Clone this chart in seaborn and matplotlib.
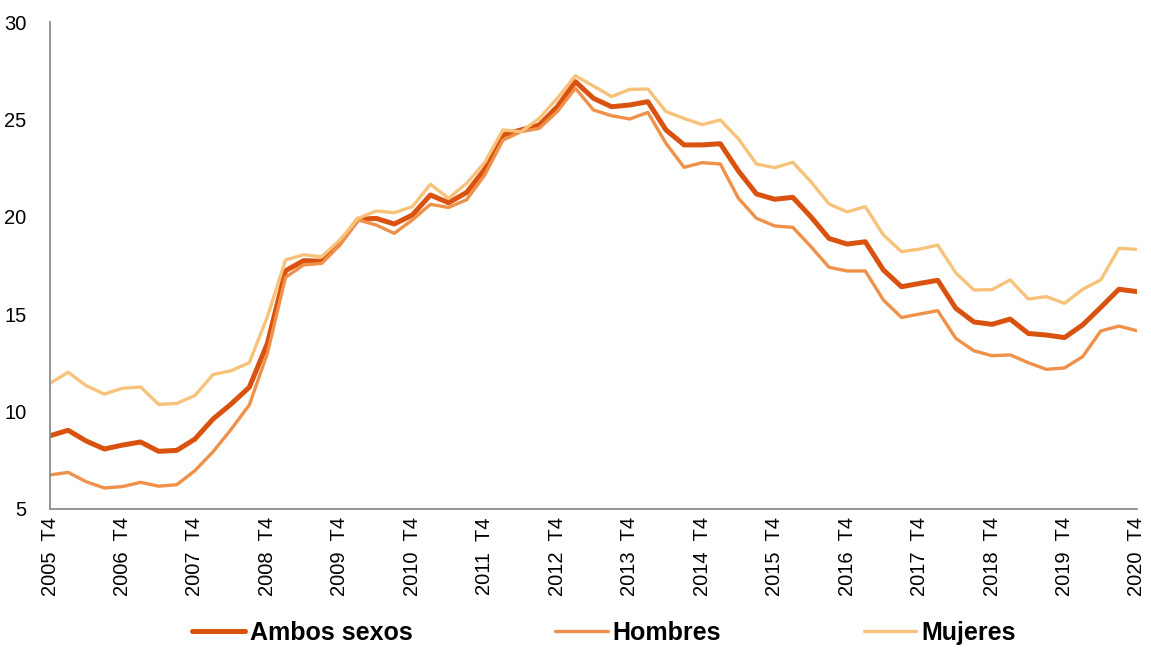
import numpy as np
import pandas as pd
import seaborn as sns
import matplotlib.pyplot as plt

# Tasa trimestral, 2005 T4 .. 2020 T4
years = list(range(2005, 2021))
quarters = [f"{y} T{q}" for y in range(2005, 2021) for q in (1, 2, 3, 4)][3:]

ambos = [8.76, 9.04, 8.49, 8.08, 8.28, 8.44, 7.96, 8.01, 8.59, 9.62,
         10.39, 11.25, 13.5, 17.23, 17.75, 17.72, 18.64, 19.87, 19.92, 19.63,
         20.09, 21.12, 20.72, 21.25, 22.45, 24.2, 24.46, 24.71, 25.65, 26.94,
         26.08, 25.65, 25.74, 25.91, 24.46, 23.69, 23.69, 23.75, 22.35, 21.17,
         20.9, 21.0, 20.0, 18.89, 18.6, 18.72, 17.27, 16.41, 16.58, 16.74,
         15.3, 14.6, 14.48, 14.75, 14.01, 13.93, 13.8, 14.45, 15.35, 16.28,
         16.16]
hombres = [6.75, 6.88, 6.4, 6.08, 6.15, 6.37, 6.17, 6.25, 6.97, 7.94,
           9.09, 10.34, 12.99, 16.89, 17.53, 17.61, 18.55, 19.84, 19.58, 19.15,
           19.84, 20.64, 20.48, 20.88, 22.15, 23.94, 24.37, 24.54, 25.4, 26.6,
           25.48, 25.19, 25.02, 25.36, 23.77, 22.54, 22.78, 22.71, 20.95, 19.92,
           19.53, 19.46, 18.47, 17.41, 17.22, 17.22, 15.73, 14.83, 15.01, 15.18,
           13.76, 13.12, 12.87, 12.91, 12.51, 12.17, 12.24, 12.82, 14.14, 14.39,
           14.15]
mujeres = [11.45, 12.02, 11.33, 10.9, 11.2, 11.26, 10.37, 10.42, 10.83, 11.9,
           12.1, 12.51, 14.87, 17.78, 18.05, 17.95, 18.81, 19.92, 20.3, 20.21,
           20.52, 21.67, 20.95, 21.72, 22.8, 24.46, 24.37, 25.05, 26.08, 27.24,
           26.71, 26.17, 26.54, 26.56, 25.4, 25.05, 24.73, 24.97, 24.0, 22.71,
           22.52, 22.8, 21.8, 20.66, 20.25, 20.52, 19.07, 18.21, 18.34, 18.55,
           17.12, 16.24, 16.26, 16.76, 15.78, 15.9, 15.56, 16.28, 16.76, 18.38,
           18.33]

series = {"Ambos sexos": ambos, "Hombres": hombres, "Mujeres": mujeres}
colors = {"Ambos sexos": "#D9520F", "Hombres": "#F0914A", "Mujeres": "#F7C27A"}
widths = {"Ambos sexos": 3.6, "Hombres": 2.4, "Mujeres": 2.4}

df = pd.DataFrame(series)
df["idx"] = np.arange(len(quarters))

sns.set_style("white")
plt.rcParams["font.family"] = ["Liberation Sans", "DejaVu Sans"]
plt.rcParams["text.color"] = "black"
plt.rcParams["xtick.color"] = "black"
plt.rcParams["ytick.color"] = "black"

fig = plt.figure(figsize=(11.51, 6.48), dpi=100)
ax = fig.add_axes([50 / 1151, 1 - 509 / 648, (1137 - 50) / 1151, (509 - 22) / 648])

for name in series:
    sns.lineplot(data=df, x="idx", y=name, ax=ax, color=colors[name],
                 linewidth=widths[name], label=name)

ax.set_xlim(0, len(quarters) - 1)
ax.set_ylim(5, 30)
ax.set_yticks([5, 10, 15, 20, 25, 30])
ax.set_xticks(np.arange(0, len(quarters), 4))
ax.set_xticklabels([f"{y}  T4" for y in years], rotation=90)
ax.set_xlabel("")
ax.set_ylabel("")

for side in ("top", "right"):
    ax.spines[side].set_visible(False)
for side in ("left", "bottom"):
    ax.spines[side].set_color("#8c8c8c")
    ax.spines[side].set_linewidth(1.3)

ax.tick_params(axis="y", direction="out", length=5, width=1.0, color="#8c8c8c",
               labelcolor="black", labelsize=14.5, pad=12)
ax.tick_params(axis="x", length=0, labelcolor="black", labelsize=14.5, pad=6)

ax.get_legend().remove()
handles, labels = ax.get_legend_handles_labels()
fig.legend(handles, labels, loc="center", bbox_to_anchor=(0.5248, 0.023),
           ncol=3, frameon=False, prop={"weight": "bold", "size": 18},
           handlelength=2.1, handletextpad=0.2, columnspacing=5.7, borderpad=0)

fig.savefig("out.png", dpi=100)
